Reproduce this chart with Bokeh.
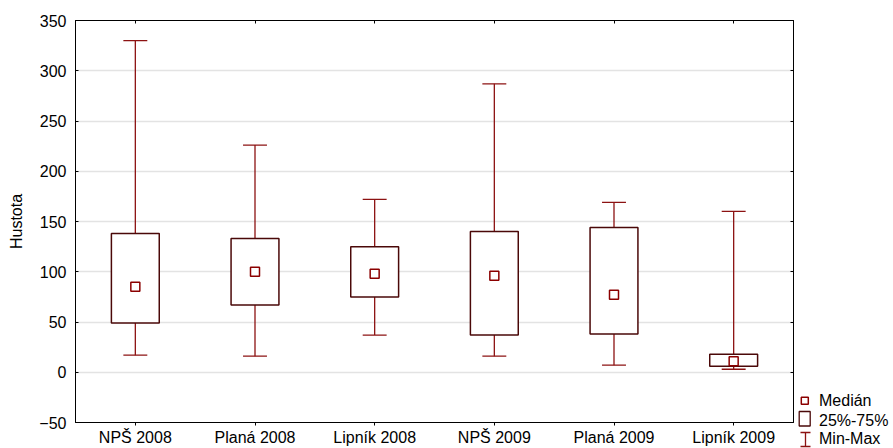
from bokeh.plotting import figure
from bokeh.layouts import row, column
from bokeh.models import (FactorRange, Range1d, LinearAxis, CategoricalAxis, ColumnDataSource,
                          FixedTicker, CustomJSTickFormatter, Spacer)
from bokeh.core.properties import value
from bokeh.transform import dodge
from bokeh.embed import file_html
from bokeh.resources import INLINE

categories = ["NPŠ 2008", "Planá 2008", "Lipník 2008", "NPŠ 2009", "Planá 2009", "Lipník 2009"]
mins = [17, 16, 37, 16, 7, 3]
q1 = [49, 67, 75, 37, 38, 6]
medians = [85, 100, 98, 96, 77, 11]
q3 = [138, 133, 125, 140, 144, 18]
maxs = [330, 226, 172, 287, 169, 160]
y_ticks = [-50, 0, 50, 100, 150, 200, 250, 300, 350]
legend_labels = ["Medián", "25%-75%", "Min-Max"]

FONT = "Liberation Sans"
FS = "16px"
WHISK = "#8c1212"
BOXC = "#4a0808"
MEDC = "#8b0000"

src = ColumnDataSource(dict(cat=categories, mn=mins, q1=q1, med=medians, q3=q3, mx=maxs))

p = figure(width=797, height=448, x_range=FactorRange(*categories), y_range=Range1d(-50, 350),
           output_backend="svg", toolbar_location=None,
           min_border_left=75, min_border_right=4, min_border_top=20, min_border_bottom=25)
p.background_fill_color = "white"
p.border_fill_color = "white"
p.outline_line_color = "black"
p.outline_line_width = 1

# whiskers
p.segment(x0="cat", y0="mn", x1="cat", y1="mx", source=src, line_color=WHISK, line_width=1.3)
p.segment(x0=dodge("cat", -0.1, range=p.x_range), y0="mx", x1=dodge("cat", 0.1, range=p.x_range), y1="mx",
          source=src, line_color=WHISK, line_width=1.3)
p.segment(x0=dodge("cat", -0.1, range=p.x_range), y0="mn", x1=dodge("cat", 0.1, range=p.x_range), y1="mn",
          source=src, line_color=WHISK, line_width=1.3)
# boxes
p.vbar(x="cat", bottom="q1", top="q3", width=0.4, source=src, fill_color="white",
       line_color=BOXC, line_width=1.5)
# medians
p.scatter(x="cat", y="med", source=src, marker="square", size=9, fill_color="white",
          line_color=MEDC, line_width=1.5)

# axes
p.xgrid.grid_line_color = None
p.ygrid.grid_line_color = "#e3e3e3"
p.ygrid.grid_line_width = 1.5
p.yaxis.ticker = FixedTicker(ticks=y_ticks)
p.ygrid.ticker = FixedTicker(ticks=y_ticks)
for ax in (p.xaxis[0], p.yaxis[0]):
    ax.axis_line_color = "black"
    ax.major_tick_line_color = "black"
    ax.minor_tick_line_color = None
    ax.major_label_text_font = FONT
    ax.major_label_text_font_size = FS
    ax.major_label_text_color = "black"
p.yaxis.major_tick_in = 3
p.yaxis.major_tick_out = 0
p.yaxis.major_label_standoff = 9
p.yaxis.axis_label = "Hustota"
p.yaxis.axis_label_text_font = FONT
p.yaxis.axis_label_text_font_size = FS
p.yaxis.axis_label_text_font_style = "normal"
p.yaxis.axis_label_text_color = "black"
p.yaxis.axis_label_standoff = 11
p.xaxis.major_tick_in = 0
p.xaxis.major_tick_out = 3
p.xaxis.major_label_standoff = 3

right = LinearAxis(ticker=FixedTicker(ticks=y_ticks), formatter=CustomJSTickFormatter(code="return ''"),
                   major_tick_in=3, major_tick_out=0, minor_tick_line_color=None,
                   axis_line_color="black", major_label_standoff=0)
p.add_layout(right, "right")
top = CategoricalAxis(formatter=CustomJSTickFormatter(code="return ''"), major_tick_in=3, major_tick_out=0,
                      axis_line_color="black", major_label_standoff=0)
p.add_layout(top, "above")

# legend panel: small figure in pixel coordinates, placed under a spacer
LG_TOP = 390
LG_LEFT = 797
lg = figure(width=96, height=448 - LG_TOP, x_range=Range1d(LG_LEFT, LG_LEFT + 96), y_range=Range1d(448, LG_TOP),
            output_backend="svg", toolbar_location=None, x_axis_type=None, y_axis_type=None,
            min_border=0)
lg.outline_line_color = None
lg.grid.grid_line_color = None
lg.background_fill_color = "white"
lg.border_fill_color = "white"
lg.scatter(x=[804.3], y=[400.3], marker="square", size=7, fill_color="white", line_color=MEDC, line_width=1.5)
lg.quad(left=[798.7], right=[809.7], top=[411], bottom=[425.5], fill_color="white",
        line_color=BOXC, line_width=1.3)
lg.segment(x0=[805], y0=[432], x1=[805], y1=[446], line_color=WHISK, line_width=1.3)
lg.segment(x0=[800, 800], y0=[432, 446], x1=[810, 810], y1=[432, 446],
           line_color=WHISK, line_width=1.3)
lg.text(x=[818.5, 818.5, 818.5], y=[400, 420, 438], text=legend_labels,
        text_baseline="middle", text_align="left",
        text_font=value(FONT), text_font_size=FS, text_color="black")

side = column(Spacer(width=96, height=LG_TOP), lg, spacing=0)
layout = row(p, side, spacing=0)
open("out.html", "w").write(file_html(layout, INLINE))
